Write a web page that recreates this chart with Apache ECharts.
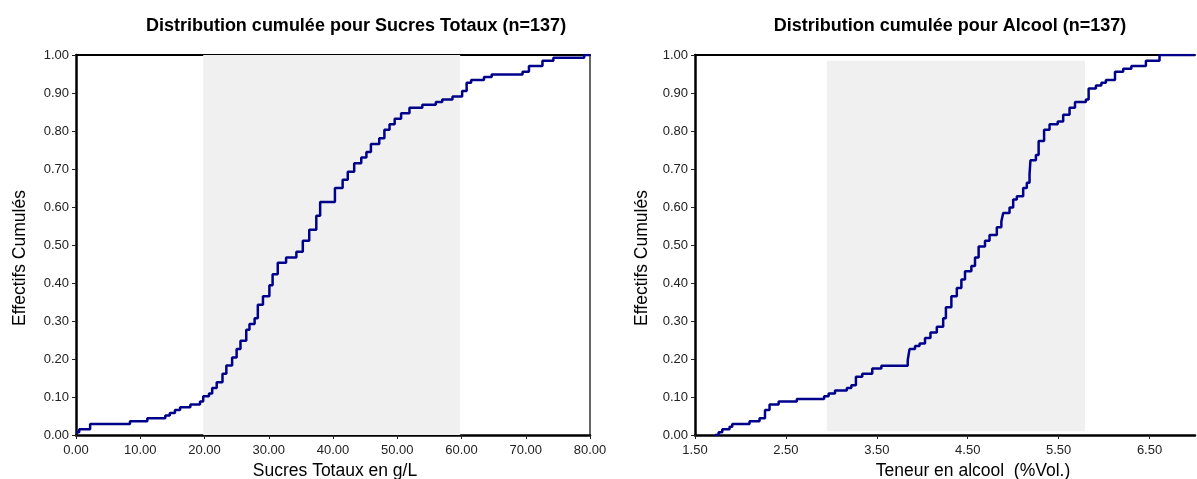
<!DOCTYPE html>
<html><head><meta charset="utf-8">
<script src="https://cdn.jsdelivr.net/npm/echarts@6/dist/echarts.min.js"></script>
<style>html,body{margin:0;padding:0;background:#fff}#c{width:1197px;height:479px}</style>
</head><body><div id="c"></div>
<script>
// ---- Data ----
const titles = ['Distribution cumulée pour Sucres Totaux (n=137)', 'Distribution cumulée pour Alcool (n=137)'];
const xNames = ['Sucres Totaux en g/L', 'Teneur en alcool  (%Vol.)'];
const yName = 'Effectifs Cumulés';

const sugarX = [0, 0.5, 2.2, 8.4, 11.1, 13.9, 14.6, 15.4, 16.2, 17.8, 19.3, 19.8, 20.7, 21.2, 21.9, 22.8, 23.4, 24.3, 25.0, 25.6, 26.5, 27.0, 27.8, 28.3, 29.1, 30.1, 30.6, 31.4, 32.7, 34.3, 35.3, 36.3, 37.4, 38.0, 40.3, 41.5, 42.3, 43.3, 44.4, 45.2, 45.9, 47.2, 48.0, 48.8, 49.6, 50.6, 51.9, 53.9, 56.0, 57.0, 58.6, 60.1, 60.8, 61.5, 63.5, 64.7, 69.5, 70.5, 72.6, 74.3, 79.1, 80];
const sugarY = [0.007, 0.015, 0.029, 0.036, 0.044, 0.051, 0.058, 0.066, 0.073, 0.080, 0.088, 0.102, 0.109, 0.124, 0.139, 0.161, 0.183, 0.204, 0.226, 0.248, 0.277, 0.292, 0.307, 0.343, 0.365, 0.394, 0.423, 0.453, 0.467, 0.482, 0.511, 0.540, 0.577, 0.613, 0.650, 0.672, 0.693, 0.715, 0.730, 0.745, 0.766, 0.781, 0.803, 0.818, 0.832, 0.847, 0.861, 0.869, 0.876, 0.883, 0.891, 0.905, 0.927, 0.934, 0.942, 0.949, 0.956, 0.971, 0.985, 0.993, 1.0, 1.0];

const alcX = [1.72, 1.76, 1.80, 1.88, 1.91, 2.10, 2.21, 2.27, 2.32, 2.42, 2.62, 2.92, 2.97, 3.04, 3.17, 3.22, 3.27, 3.34, 3.45, 3.55, 3.84, 3.86, 3.92, 3.97, 4.03, 4.09, 4.16, 4.23, 4.26, 4.32, 4.38, 4.43, 4.47, 4.54, 4.58, 4.62, 4.69, 4.74, 4.82, 4.87, 4.89, 4.96, 5.00, 5.04, 5.11, 5.15, 5.18, 5.19, 5.25, 5.28, 5.34, 5.40, 5.49, 5.55, 5.62, 5.68, 5.80, 5.83, 5.91, 5.97, 6.02, 6.12, 6.21, 6.30, 6.46, 6.61, 7.0];
const alcY = [0.0, 0.007, 0.015, 0.022, 0.029, 0.036, 0.044, 0.066, 0.080, 0.088, 0.095, 0.102, 0.109, 0.117, 0.124, 0.131, 0.153, 0.161, 0.175, 0.182, 0.197, 0.226, 0.234, 0.241, 0.255, 0.270, 0.285, 0.307, 0.336, 0.365, 0.387, 0.409, 0.431, 0.445, 0.467, 0.496, 0.511, 0.526, 0.547, 0.562, 0.584, 0.599, 0.620, 0.628, 0.650, 0.664, 0.686, 0.723, 0.737, 0.774, 0.803, 0.818, 0.825, 0.843, 0.861, 0.876, 0.883, 0.912, 0.920, 0.927, 0.934, 0.956, 0.964, 0.971, 0.985, 1.0, 1.0];

// shaded bands [xFrom, xTo, yFrom, yTo]
const sugarBand = [19.8, 59.8, 0, 1];
const alcBand = [2.95, 5.79, 0.01, 0.985];

// axis ranges [min, max, interval]
const sugarXAxis = [0, 80, 10];
const alcXAxis = [1.5, 7.0, 1];
const yAxisRange = [0, 1, 0.1];

// ---- Chart ----
const FONT = '"Liberation Sans", Arial, sans-serif';
const zip = (a, b) => a.map((v, i) => [v, b[i]]);
const fmt = v => Number(v).toFixed(2);

const grids = [
  { left: 76, top: 55, width: 514, height: 380, outerBoundsMode: 'none', containLabel: false },
  { left: 695, top: 55, width: 500, height: 380, outerBoundsMode: 'none', containLabel: false }
];

function mainX(g, r, name, pad) {
  return {
    type: 'value', gridIndex: g, min: r[0], max: r[1], interval: r[2], position: 'bottom',
    name: name, nameLocation: 'middle', nameGap: 21,
    nameTextStyle: { fontFamily: FONT, fontSize: 17.5, color: '#000', padding: pad },
    axisLine: { show: true, onZero: false, lineStyle: { color: '#000', width: 2.5 } },
    axisTick: { show: true, length: 4, lineStyle: { color: '#222', width: 1 } },
    axisLabel: { formatter: fmt, fontFamily: FONT, fontSize: 13, color: '#222', margin: 9, showMaxLabel: g === 0 },
    splitLine: { show: false }
  };
}
function frameX(g, r) {
  return {
    type: 'value', gridIndex: g, min: r[0], max: r[1], position: 'top',
    axisLine: { show: true, onZero: false, lineStyle: { color: '#000', width: 2 } },
    axisTick: { show: false }, axisLabel: { show: false }, splitLine: { show: false }
  };
}
function mainY(g, gap, pad) {
  return {
    type: 'value', gridIndex: g, min: yAxisRange[0], max: yAxisRange[1], interval: yAxisRange[2], position: 'left',
    name: yName, nameLocation: 'middle', nameGap: gap, nameRotate: 90,
    nameTextStyle: { fontFamily: FONT, fontSize: 17.5, color: '#000', padding: pad },
    axisLine: { show: true, onZero: false, lineStyle: { color: '#000', width: 2.5 } },
    axisTick: { show: true, length: 4, lineStyle: { color: '#222', width: 1 } },
    axisLabel: { formatter: fmt, fontFamily: FONT, fontSize: 13, color: '#222', margin: 7 },
    splitLine: { show: false }
  };
}
function frameY(g) {
  return {
    type: 'value', gridIndex: g, min: yAxisRange[0], max: yAxisRange[1], position: 'right',
    axisLine: { show: true, onZero: false, lineStyle: { color: '#333', width: 1.5 } },
    axisTick: { show: false }, axisLabel: { show: false }, splitLine: { show: false }
  };
}

function cdfSeries(xi, yi, data, band) {
  return {
    type: 'line', xAxisIndex: xi, yAxisIndex: yi, step: 'end', data: data,
    showSymbol: false, symbol: 'none', silent: true, animation: false,
    lineStyle: { color: '#00008b', width: 2.5 },
    markArea: {
      silent: true,
      itemStyle: { color: '#f0f0f0' },
      data: [[{ coord: [band[0], band[2]] }, { coord: [band[1], band[3]] }]]
    },
    z: 3
  };
}

const chart = echarts.init(document.getElementById('c'), null, { renderer: 'canvas' });
chart.setOption({
  animation: false,
  backgroundColor: '#fff',
  title: [
    { text: titles[0], left: 351, top: 12, textAlign: 'center', textStyle: { fontFamily: FONT, fontSize: 18, fontWeight: 'bold', color: '#000' } },
    { text: titles[1], left: 945, top: 12, textAlign: 'center', textStyle: { fontFamily: FONT, fontSize: 18, fontWeight: 'bold', color: '#000' } }
  ],
  grid: grids,
  xAxis: [
    mainX(0, sugarXAxis, xNames[0], [0, 0, 0, 4]),
    mainX(1, alcXAxis, xNames[1], [0, 0, 0, 56]),
    frameX(0, sugarXAxis),
    frameX(1, alcXAxis)
  ],
  yAxis: [
    mainY(0, 47, [0, 0, 0, -26]),
    mainY(1, 44, [0, 0, 0, -26]),
    frameY(0)
  ],
  series: [
    cdfSeries(0, 0, zip(sugarX, sugarY), sugarBand),
    cdfSeries(1, 1, zip(alcX, alcY), alcBand)
  ]
});
</script>
</body></html>
